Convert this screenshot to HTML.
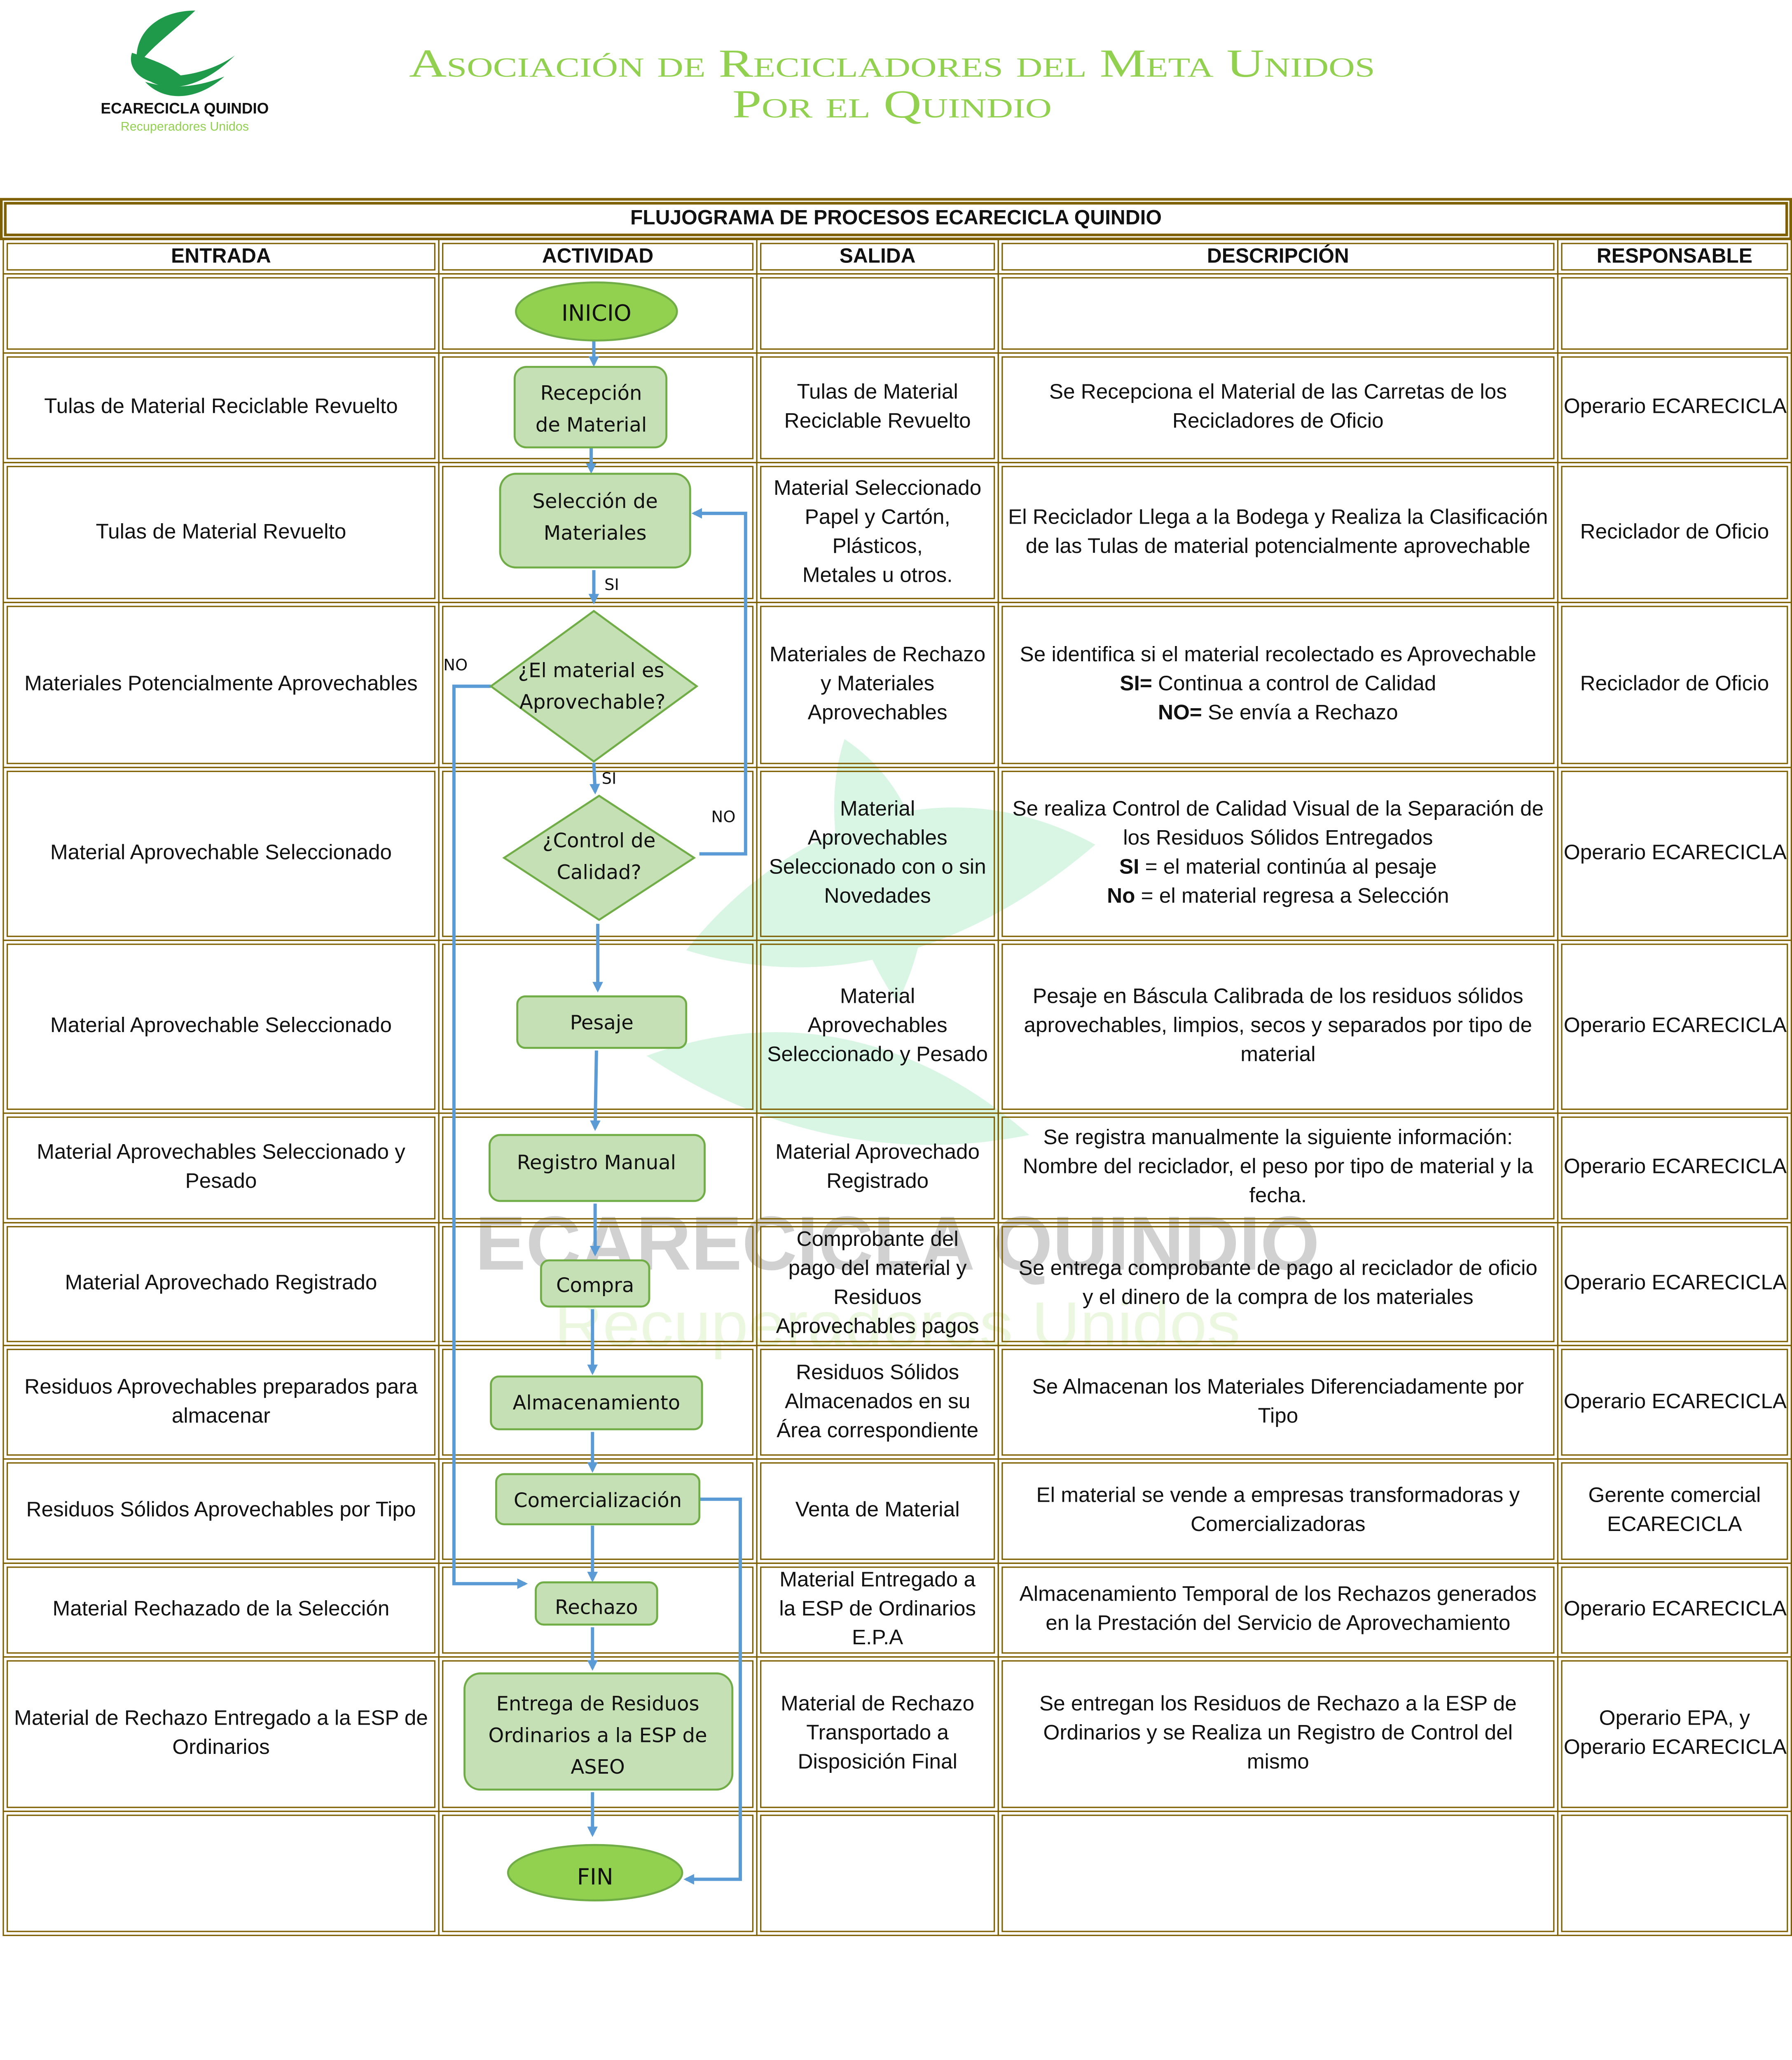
<!DOCTYPE html>
<html><head><meta charset="utf-8"><style>
html,body{margin:0;padding:0;background:#fff;width:4350px;height:5021px;overflow:hidden}
#w{position:absolute;left:0;top:0;width:1358px;height:1567px;transform:scale(3.20324);transform-origin:0 0;font-family:"Liberation Sans",sans-serif;overflow:hidden}
.c{position:absolute;box-sizing:border-box;border:4px double #7f6000;display:flex;align-items:center;justify-content:center;text-align:center;font-size:16px;line-height:22px;color:#111;padding:0 1px;white-space:nowrap}
.c>div{width:100%}
.h{font-weight:bold;font-size:15.5px}
svg{position:absolute;left:0;top:0}
</style></head><body><div id="w">
<svg width="1358" height="1567" viewBox="0 0 1358 1567">
<g opacity="0.18">
<path d="M520,720 C600,620 720,580 830,640 C760,700 650,760 520,720 Z" fill="#2ecc71"/>
<path d="M640,560 C700,600 720,680 680,760 C640,700 620,620 640,560 Z" fill="#2ecc71"/>
<path d="M490,800 C600,760 700,790 780,860 C680,880 580,860 490,800 Z" fill="#2ecc71"/>
</g>
<text x="680" y="962" text-anchor="middle" font-family="Liberation Sans" font-weight="bold" font-size="58" fill="#9a9a9a" opacity="0.45" textLength="640" lengthAdjust="spacingAndGlyphs">ECARECICLA QUINDIO</text>
<text x="680" y="1020" text-anchor="middle" font-family="Liberation Sans" font-size="48" fill="#92d050" opacity="0.18" textLength="520" lengthAdjust="spacingAndGlyphs">Recuperadores Unidos</text>
</svg>
<svg width="220" height="110" viewBox="0 0 220 110">
<path d="M148,8 C120,8 100,25 104,50 C115,35 130,25 148,8 Z" fill="#1e9a4a"/>
<path d="M100,40 C95,55 115,70 140,60 C130,50 115,45 100,40 Z" fill="#1e9a4a"/>
<path d="M106,55 C120,72 150,70 178,42 C160,55 130,62 106,55 Z" fill="#1e9a4a"/>
<path d="M110,62 C125,78 150,76 170,58 C150,66 130,68 110,62 Z" fill="#1e9a4a"/>
<text x="140" y="86" text-anchor="middle" font-family="Liberation Sans" font-weight="bold" font-size="11.5" fill="#111">ECARECICLA QUINDIO</text>
<text x="140" y="99" text-anchor="middle" font-family="Liberation Sans" font-size="9.5" fill="#92d050">Recuperadores Unidos</text>
</svg>
<svg width="1358" height="110" viewBox="0 0 1358 110">
<text x="676" y="58" text-anchor="middle" font-family="Liberation Serif" font-size="30" fill="#92d050" style="font-variant:small-caps" textLength="732" lengthAdjust="spacingAndGlyphs">Asociación de Recicladores del Meta Unidos</text>
<text x="676" y="89" text-anchor="middle" font-family="Liberation Serif" font-size="30" fill="#92d050" style="font-variant:small-caps" textLength="242" lengthAdjust="spacingAndGlyphs">Por el Quindio</text>
</svg>

<div class="c h" style="left:0;top:150px;width:1358px;height:32px;border-width:5px"><div>FLUJOGRAMA DE PROCESOS ECARECICLA QUINDIO</div></div>
<div class="c h" style="left:2px;top:181px;width:331px;height:27px"><div>ENTRADA</div></div>
<div class="c h" style="left:332px;top:181px;width:242px;height:27px"><div>ACTIVIDAD</div></div>
<div class="c h" style="left:573px;top:181px;width:184px;height:27px"><div>SALIDA</div></div>
<div class="c h" style="left:756px;top:181px;width:425px;height:27px"><div>DESCRIPCIÓN</div></div>
<div class="c h" style="left:1180px;top:181px;width:178px;height:27px"><div>RESPONSABLE</div></div>

<div class="c" style="left:2px;top:207px;width:331px;height:61px"></div>
<div class="c" style="left:332px;top:207px;width:242px;height:61px"></div>
<div class="c" style="left:573px;top:207px;width:184px;height:61px"></div>
<div class="c" style="left:756px;top:207px;width:425px;height:61px"></div>
<div class="c" style="left:1180px;top:207px;width:178px;height:61px"></div>

<div class="c" style="left:2px;top:267px;width:331px;height:84px"><div>Tulas de Material Reciclable Revuelto</div></div>
<div class="c" style="left:332px;top:267px;width:242px;height:84px"></div>
<div class="c" style="left:573px;top:267px;width:184px;height:84px"><div>Tulas de Material<br>Reciclable Revuelto</div></div>
<div class="c" style="left:756px;top:267px;width:425px;height:84px"><div>Se Recepciona el Material de las Carretas de los<br>Recicladores de Oficio</div></div>
<div class="c" style="left:1180px;top:267px;width:178px;height:84px"><div>Operario ECARECICLA</div></div>

<div class="c" style="left:2px;top:350px;width:331px;height:107px"><div>Tulas de Material Revuelto</div></div>
<div class="c" style="left:332px;top:350px;width:242px;height:107px"></div>
<div class="c" style="left:573px;top:350px;width:184px;height:107px"><div>Material Seleccionado<br>Papel y Cartón,<br>Plásticos,<br>Metales u otros.</div></div>
<div class="c" style="left:756px;top:350px;width:425px;height:107px"><div>El Reciclador Llega a la Bodega y Realiza la Clasificación<br>de las Tulas de material potencialmente aprovechable</div></div>
<div class="c" style="left:1180px;top:350px;width:178px;height:107px"><div>Reciclador de Oficio</div></div>

<div class="c" style="left:2px;top:456px;width:331px;height:126px"><div>Materiales Potencialmente Aprovechables</div></div>
<div class="c" style="left:332px;top:456px;width:242px;height:126px"></div>
<div class="c" style="left:573px;top:456px;width:184px;height:126px"><div>Materiales de Rechazo<br>y Materiales<br>Aprovechables</div></div>
<div class="c" style="left:756px;top:456px;width:425px;height:126px"><div>Se identifica si el material recolectado es Aprovechable<br><b>SI=</b> Continua a control de Calidad<br><b>NO=</b> Se envía a Rechazo</div></div>
<div class="c" style="left:1180px;top:456px;width:178px;height:126px"><div>Reciclador de Oficio</div></div>

<div class="c" style="left:2px;top:581px;width:331px;height:132px"><div>Material Aprovechable Seleccionado</div></div>
<div class="c" style="left:332px;top:581px;width:242px;height:132px"></div>
<div class="c" style="left:573px;top:581px;width:184px;height:132px"><div>Material<br>Aprovechables<br>Seleccionado con o sin<br>Novedades</div></div>
<div class="c" style="left:756px;top:581px;width:425px;height:132px"><div>Se realiza Control de Calidad Visual de la Separación de<br>los Residuos Sólidos Entregados<br><b>SI</b> = el material continúa al pesaje<br><b>No</b> = el material regresa a Selección</div></div>
<div class="c" style="left:1180px;top:581px;width:178px;height:132px"><div>Operario ECARECICLA</div></div>

<div class="c" style="left:2px;top:712px;width:331px;height:132px"><div>Material Aprovechable Seleccionado</div></div>
<div class="c" style="left:332px;top:712px;width:242px;height:132px"></div>
<div class="c" style="left:573px;top:712px;width:184px;height:132px"><div>Material<br>Aprovechables<br>Seleccionado y Pesado</div></div>
<div class="c" style="left:756px;top:712px;width:425px;height:132px"><div>Pesaje en Báscula Calibrada de los residuos sólidos<br>aprovechables, limpios, secos y separados por tipo de<br>material</div></div>
<div class="c" style="left:1180px;top:712px;width:178px;height:132px"><div>Operario ECARECICLA</div></div>

<div class="c" style="left:2px;top:843px;width:331px;height:84px"><div>Material Aprovechables Seleccionado y<br>Pesado</div></div>
<div class="c" style="left:332px;top:843px;width:242px;height:84px"></div>
<div class="c" style="left:573px;top:843px;width:184px;height:84px"><div>Material Aprovechado<br>Registrado</div></div>
<div class="c" style="left:756px;top:843px;width:425px;height:84px"><div>Se registra manualmente la siguiente información:<br>Nombre del reciclador, el peso por tipo de material y la<br>fecha.</div></div>
<div class="c" style="left:1180px;top:843px;width:178px;height:84px"><div>Operario ECARECICLA</div></div>

<div class="c" style="left:2px;top:926px;width:331px;height:94px"><div>Material Aprovechado Registrado</div></div>
<div class="c" style="left:332px;top:926px;width:242px;height:94px"></div>
<div class="c" style="left:573px;top:926px;width:184px;height:94px"><div>Comprobante del<br>pago del material y<br>Residuos<br>Aprovechables pagos</div></div>
<div class="c" style="left:756px;top:926px;width:425px;height:94px"><div>Se entrega comprobante de pago al reciclador de oficio<br>y el dinero de la compra de los materiales</div></div>
<div class="c" style="left:1180px;top:926px;width:178px;height:94px"><div>Operario ECARECICLA</div></div>

<div class="c" style="left:2px;top:1019px;width:331px;height:87px"><div>Residuos Aprovechables preparados para<br>almacenar</div></div>
<div class="c" style="left:332px;top:1019px;width:242px;height:87px"></div>
<div class="c" style="left:573px;top:1019px;width:184px;height:87px"><div>Residuos Sólidos<br>Almacenados en su<br>Área correspondiente</div></div>
<div class="c" style="left:756px;top:1019px;width:425px;height:87px"><div>Se Almacenan los Materiales Diferenciadamente por<br>Tipo</div></div>
<div class="c" style="left:1180px;top:1019px;width:178px;height:87px"><div>Operario ECARECICLA</div></div>

<div class="c" style="left:2px;top:1105px;width:331px;height:80px"><div>Residuos Sólidos Aprovechables por Tipo</div></div>
<div class="c" style="left:332px;top:1105px;width:242px;height:80px"></div>
<div class="c" style="left:573px;top:1105px;width:184px;height:80px"><div>Venta de Material</div></div>
<div class="c" style="left:756px;top:1105px;width:425px;height:80px"><div>El material se vende a empresas transformadoras y<br>Comercializadoras</div></div>
<div class="c" style="left:1180px;top:1105px;width:178px;height:80px"><div>Gerente comercial<br>ECARECICLA</div></div>

<div class="c" style="left:2px;top:1184px;width:331px;height:72px"><div>Material Rechazado de la Selección</div></div>
<div class="c" style="left:332px;top:1184px;width:242px;height:72px"></div>
<div class="c" style="left:573px;top:1184px;width:184px;height:72px"><div>Material Entregado a<br>la ESP de Ordinarios<br>E.P.A</div></div>
<div class="c" style="left:756px;top:1184px;width:425px;height:72px"><div>Almacenamiento Temporal de los Rechazos generados<br>en la Prestación del Servicio de Aprovechamiento</div></div>
<div class="c" style="left:1180px;top:1184px;width:178px;height:72px"><div>Operario ECARECICLA</div></div>

<div class="c" style="left:2px;top:1255px;width:331px;height:118px"><div>Material de Rechazo Entregado a la ESP de<br>Ordinarios</div></div>
<div class="c" style="left:332px;top:1255px;width:242px;height:118px"></div>
<div class="c" style="left:573px;top:1255px;width:184px;height:118px"><div>Material de Rechazo<br>Transportado a<br>Disposición Final</div></div>
<div class="c" style="left:756px;top:1255px;width:425px;height:118px"><div>Se entregan los Residuos de Rechazo a la ESP de<br>Ordinarios y se Realiza un Registro de Control del<br>mismo</div></div>
<div class="c" style="left:1180px;top:1255px;width:178px;height:118px"><div>Operario EPA, y<br>Operario ECARECICLA</div></div>

<div class="c" style="left:2px;top:1372px;width:331px;height:95px"></div>
<div class="c" style="left:332px;top:1372px;width:242px;height:95px"></div>
<div class="c" style="left:573px;top:1372px;width:184px;height:95px"></div>
<div class="c" style="left:756px;top:1372px;width:425px;height:95px"></div>
<div class="c" style="left:1180px;top:1372px;width:178px;height:95px"></div>

<svg width="1358" height="1567" viewBox="0 0 1358 1567" font-family="DejaVu Sans" font-size="15">
<defs><marker id="a" markerWidth="8" markerHeight="8" refX="6" refY="4" orient="auto" markerUnits="userSpaceOnUse"><path d="M0,0 L8,4 L0,8 Z" fill="#5b9bd5"/></marker></defs>
<g stroke="#5b9bd5" stroke-width="2.5" fill="none" marker-end="url(#a)">
<line x1="450" y1="258" x2="450" y2="276"/>
<line x1="448" y1="339" x2="448" y2="357"/>
<line x1="450" y1="432" x2="450" y2="456"/>
<line x1="450" y1="578" x2="451" y2="600"/>
<polyline points="530,647 565,647 565,389 526,389"/>
<polyline points="372,520 344,520 344,1200 398,1200"/>
<line x1="453" y1="700" x2="453" y2="750"/>
<line x1="452" y1="796" x2="451" y2="855"/>
<line x1="451" y1="912" x2="451" y2="950"/>
<line x1="449" y1="992" x2="449" y2="1040"/>
<line x1="449" y1="1085" x2="449" y2="1114"/>
<line x1="449" y1="1156" x2="449" y2="1197"/>
<line x1="449" y1="1233" x2="449" y2="1264"/>
<line x1="449" y1="1358" x2="449" y2="1390"/>
<polyline points="530,1136 561,1136 561,1424 520,1424"/>
</g>
<g font-size="12" fill="#111"><text x="458" y="447">SI</text><text x="456" y="594">SI</text><text x="336" y="508">NO</text><text x="539" y="623">NO</text></g>
<g stroke="#70ad47" stroke-width="1.5">
<ellipse cx="452" cy="236" rx="61" ry="22" fill="#92d050"/>
<rect x="390" y="278" width="115" height="61" rx="9" fill="#c5e0b4"/>
<rect x="379" y="359" width="144" height="71" rx="12" fill="#c5e0b4"/>
<polygon points="450,463 528,520 450,577 372,520" fill="#c5e0b4"/>
<polygon points="454,603 526,650 454,697 382,650" fill="#c5e0b4"/>
<rect x="392" y="755" width="128" height="39" rx="6" fill="#c5e0b4"/>
<rect x="371" y="860" width="163" height="50" rx="8" fill="#c5e0b4"/>
<rect x="410" y="955" width="82" height="35" rx="6" fill="#c5e0b4"/>
<rect x="372" y="1043" width="160" height="40" rx="6" fill="#c5e0b4"/>
<rect x="376" y="1117" width="154" height="38" rx="6" fill="#c5e0b4"/>
<rect x="406" y="1199" width="92" height="32" rx="6" fill="#c5e0b4"/>
<rect x="352" y="1268" width="203" height="88" rx="12" fill="#c5e0b4"/>
<ellipse cx="451" cy="1419" rx="66" ry="21" fill="#92d050"/>
</g>
<g text-anchor="middle" fill="#111">
<text x="452" y="243" font-size="17">INICIO</text>
<text x="448" y="303">Recepción</text><text x="448" y="327">de Material</text>
<text x="451" y="385">Selección de</text><text x="451" y="409">Materiales</text>
<text x="448" y="513">¿El material es</text><text x="449" y="537">Aprovechable?</text>
<text x="454" y="642">¿Control de</text><text x="454" y="666">Calidad?</text>
<text x="456" y="780">Pesaje</text>
<text x="452" y="886">Registro Manual</text>
<text x="451" y="979">Compra</text>
<text x="452" y="1068">Almacenamiento</text>
<text x="453" y="1142">Comercialización</text>
<text x="452" y="1223">Rechazo</text>
<text x="453" y="1296">Entrega de Residuos</text><text x="453" y="1320">Ordinarios a la ESP de</text><text x="453" y="1344">ASEO</text>
<text x="451" y="1428" font-size="17">FIN</text>
</g>
</svg>
</div></body></html>
